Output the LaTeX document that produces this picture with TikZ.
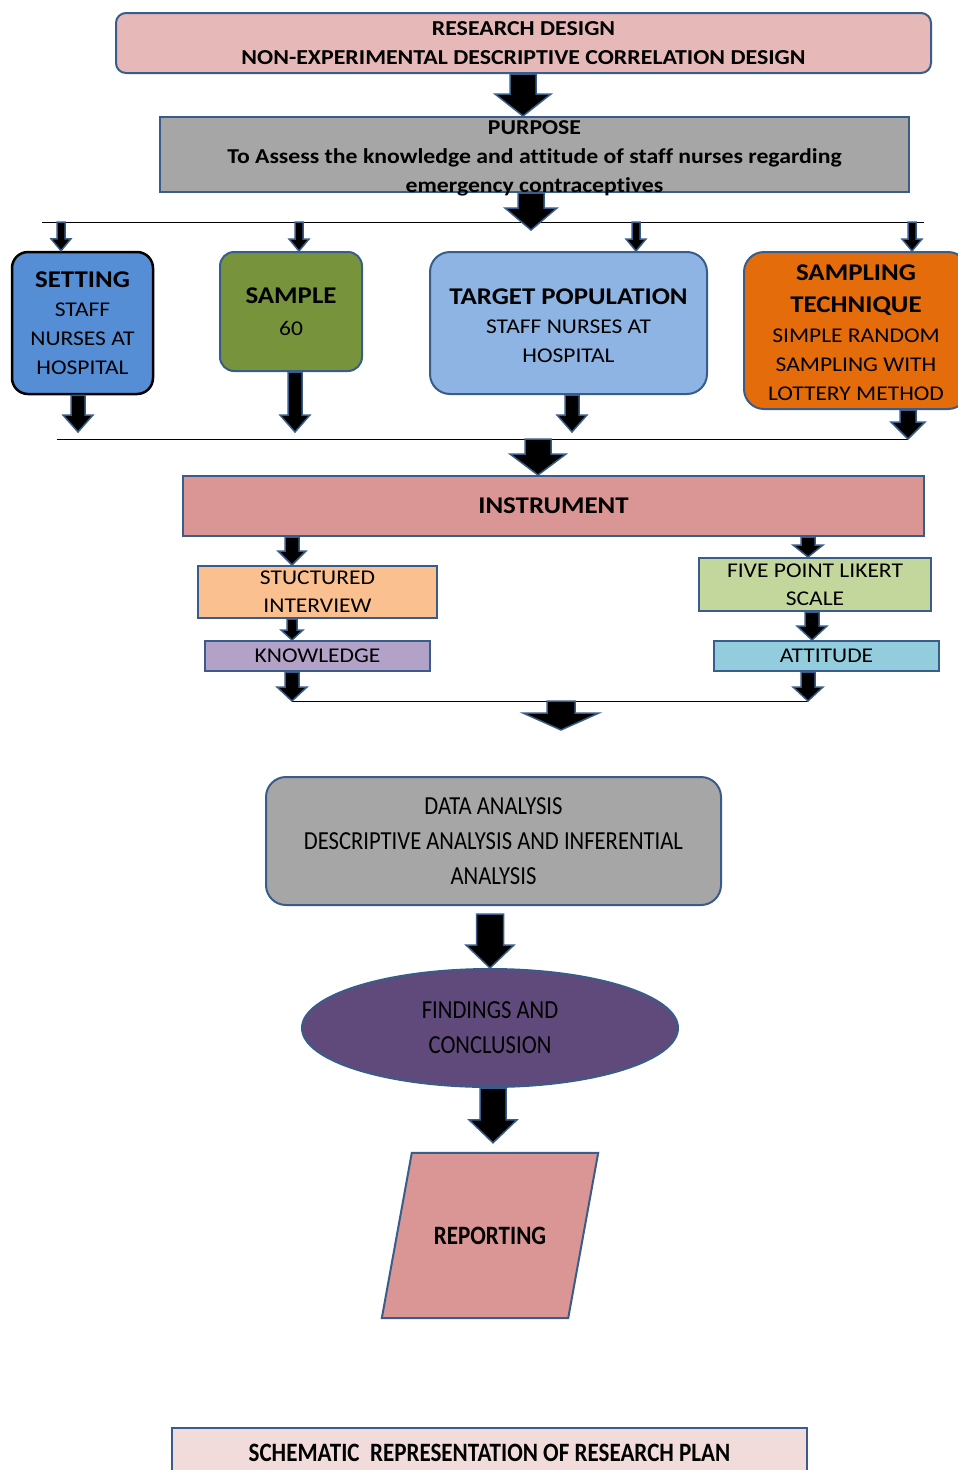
\documentclass[tikz,border=0pt]{standalone}
\usepackage{fontspec}
\setmainfont[FakeStretch=1.12,Ligatures=CommonOff]{Carlito}
\newfontfamily\narrowfont[FakeStretch=0.87,Ligatures=CommonOff]{Carlito}
\usepackage{tikz}
\usetikzlibrary{calc}
\usetikzlibrary{shapes.geometric}
\usetikzlibrary{backgrounds}
\definecolor{boxline}{HTML}{385D8A}
\definecolor{designfill}{HTML}{E6B9B8}
\definecolor{greyfill}{HTML}{A6A6A6}
\definecolor{settingfill}{HTML}{558ED5}
\definecolor{samplefill}{HTML}{77933C}
\definecolor{targetfill}{HTML}{8DB4E2}
\definecolor{techniquefill}{HTML}{E46C0A}
\definecolor{instrumentfill}{HTML}{D99694}
\definecolor{interviewfill}{HTML}{FAC090}
\definecolor{likertfill}{HTML}{C3D69B}
\definecolor{knowledgefill}{HTML}{B3A2C7}
\definecolor{attitudefill}{HTML}{93CDDD}
\definecolor{findingsfill}{HTML}{604A7B}
\definecolor{titlefill}{HTML}{F2DCDB}
\newcommand{\fsz}[2]{\fontsize{#1}{#2}\selectfont}
\tikzstyle{box}=[draw=boxline,line width=2,align=center,inner sep=0]
\tikzstyle{block arrow}=[fill=black,draw=boxline,line width=1.5,line join=miter]
\tikzstyle{bus}=[draw=black,line width=1]
% x, from, to, half shaft, half head, head length
\newcommand{\blockarrow}[6]{%
  \path[block arrow] let \p1=#2, \p2=#3 in
    (#1pt-#4pt,\y1) -- (#1pt-#4pt,\y2+#6pt) -- (#1pt-#5pt,\y2+#6pt) -- (#1pt,\y2)
    -- (#1pt+#5pt,\y2+#6pt) -- (#1pt+#4pt,\y2+#6pt) -- (#1pt+#4pt,\y1) -- cycle;}

\begin{document}
\begin{tikzpicture}[x=1pt,y=-1pt]
  \useasboundingbox (0,0) rectangle (958,1470);

  % DESIGN AND PURPOSE
  \node[box,rounded corners=10,fill=designfill,minimum width=815,minimum height=60,
        font=\fsz{21.3}{29}\bfseries] (design) at (523.5,43)
        {RESEARCH DESIGN\\NON-EXPERIMENTAL DESCRIPTIVE CORRELATION DESIGN};
  \node[box,fill=greyfill,minimum width=749,minimum height=75] (purpose) at (534.5,154.5) {};
  \node[align=center,inner sep=0,font=\fsz{21.2}{29}\bfseries] (purposetext) at (534.5,158)
        {PURPOSE\\To Assess the knowledge and attitude of staff nurses regarding\\emergency contraceptives};

  % FOUR BOXES
  \node[box,draw=black,line width=2.5,rounded corners=16,fill=settingfill,minimum width=141,minimum height=142,
        font=\fsz{21}{29}] (setting) at (82.5,323)
        {{\fsz{24}{32}\bfseries SETTING}\\STAFF\\NURSES AT\\HOSPITAL};
  \node[box,rounded corners=14,fill=samplefill,minimum width=142,minimum height=119,
        font=\fsz{21}{32}] (sample) at (291,311.5)
        {{\fsz{24}{32}\bfseries SAMPLE}\\60};
  \node[box,rounded corners=20,fill=targetfill,minimum width=277,minimum height=142,
        font=\fsz{21}{29}] (target) at (568.5,323)
        {\rule{0pt}{21pt}{\fsz{24}{32}\bfseries TARGET POPULATION}\\STAFF NURSES AT\\HOSPITAL};
  \node[box,rounded corners=20,fill=techniquefill,minimum width=224,minimum height=157,
        font=\fsz{21}{29}] (technique) at (856,330.5)
        {\rule{0pt}{20pt}{\fsz{24}{32}\bfseries SAMPLING}\\[3pt]{\fsz{24}{32}\bfseries TECHNIQUE}\\[1pt]SIMPLE RANDOM\\SAMPLING WITH\\LOTTERY METHOD};

  % INSTRUMENT
  \node[box,fill=instrumentfill,minimum width=741,minimum height=60,font=\fsz{24}{30}\bfseries]
        (instrument) at (553.5,506) {INSTRUMENT};
  \node[box,fill=interviewfill,minimum width=239,minimum height=52,font=\fsz{21}{28}]
        (interview) at (317.5,592) {STUCTURED\\INTERVIEW};
  \node[box,fill=likertfill,minimum width=232,minimum height=53,font=\fsz{21}{28}]
        (likert) at (815,584.5) {FIVE POINT LIKERT\\SCALE};
  \node[box,fill=knowledgefill,minimum width=225,minimum height=30,font=\fsz{21}{28}]
        (knowledge) at (317.5,656) {KNOWLEDGE};
  \node[box,fill=attitudefill,minimum width=225,minimum height=30,font=\fsz{21}{28}]
        (attitude) at (826.5,656) {ATTITUDE};

  % ANALYSIS TO REPORT
  \node[box,rounded corners=20,fill=greyfill,minimum width=455,minimum height=128,
        font=\narrowfont\fsz{26}{35}] (analysis) at (493.5,841)
        {DATA ANALYSIS\\DESCRIPTIVE ANALYSIS AND INFERENTIAL\\ANALYSIS};
  \node[box,ellipse,fill=findingsfill,minimum width=376,minimum height=118,
        font=\narrowfont\fsz{26}{35}] (findings) at (490,1028)
        {FINDINGS AND\\CONCLUSION};
  \node[inner sep=0,minimum width=186,minimum height=165,
        font=\narrowfont\fsz{26.5}{35}\bfseries] (reporting) at (490,1235.5) {REPORTING};
  \begin{scope}[on background layer]
    \path[box,fill=instrumentfill] ($(reporting.north west)+(15,0)$) -- ($(reporting.north east)+(15,0)$)
      -- ($(reporting.south east)+(-15,0)$) -- ($(reporting.south west)+(-15,0)$) -- cycle;
  \end{scope}
  \node[box,fill=titlefill,minimum width=635,minimum height=50,
        font=\narrowfont\fsz{26.5}{35}\bfseries] (title) at (489.5,1453)
        {SCHEMATIC\ \ REPRESENTATION OF RESEARCH PLAN};

  % BUS LINES
  \coordinate (busA west) at (42,222);
  \coordinate (busA east) at (924,222);
  \coordinate (busB west) at (57,439);
  \coordinate (busB east) at (908,439);
  \coordinate (busC west) at (292,701);
  \coordinate (busC east) at (808,701);
  \draw[bus] (busA west) -- (busA east);
  \draw[bus] (busB west) -- (busB east);
  \draw[bus] (busC west) -- (busC east);
  \coordinate (hubA) at (531,230);
  \coordinate (hubB) at (538,439);
  \coordinate (hubC) at (561,701);
  \coordinate (hubC tip) at (561,730);

  % ARROWS
  \blockarrow{523}{(design.south)}{(purpose.north)}{13}{28}{22}
  \blockarrow{531}{(purpose.south)}{(hubA)}{13}{26}{22}
  \foreach \ax/\dest in {61/setting,299/sample,636/target,912/technique}{
    \blockarrow{\ax}{(busA west)}{(\dest.north)}{4}{10}{12}
  }
  \blockarrow{78}{(setting.south)}{($(busB west)+(0,-7)$)}{7}{15}{17}
  \blockarrow{295}{(sample.south)}{($(busB west)+(0,-7)$)}{7}{15}{17}
  \blockarrow{572}{(target.south)}{($(busB west)+(0,-7)$)}{7}{15}{17}
  \blockarrow{908}{(technique.south)}{(busB east)}{8}{17}{17}
  \blockarrow{538}{(hubB)}{(instrument.north)}{13}{28}{21}
  \blockarrow{292}{(instrument.south)}{(interview.north)}{7}{14}{14}
  \blockarrow{808}{(instrument.south)}{(likert.north)}{7}{15}{12}
  \blockarrow{292}{(interview.south)}{(knowledge.north)}{5}{11}{10}
  \blockarrow{812}{(likert.south)}{(attitude.north)}{7}{15}{14}
  \blockarrow{292}{(knowledge.south)}{(busC west)}{7}{15}{14}
  \blockarrow{808}{(attitude.south)}{(busC east)}{7}{15}{14}
  \blockarrow{561}{(hubC)}{(hubC tip)}{14}{38}{17}
  \blockarrow{490}{($(analysis.south)+(0,8)$)}{(findings.north)}{13.5}{24}{23}
  \blockarrow{493}{(findings.south)}{($(reporting.north)+(0,-10)$)}{13}{24}{23}
\end{tikzpicture}
\end{document}
